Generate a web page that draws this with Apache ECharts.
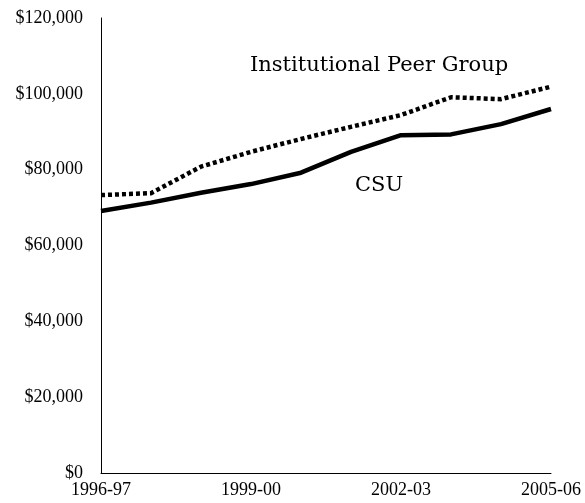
<!DOCTYPE html>
<html><head><meta charset="utf-8">
<script src="https://cdn.jsdelivr.net/npm/echarts@6/dist/echarts.min.js"></script>
<style>html,body{margin:0;padding:0;background:#fff}#c{width:585px;height:503px}</style>
</head><body><div id="c"></div>
<script>
var years = ['1996-97','1997-98','1998-99','1999-00','2000-01','2001-02','2002-03','2003-04','2004-05','2005-06'];
var peerGroup = [73300, 73800, 80800, 84700, 88100, 91300, 94400, 99100, 98600, 101900];
var csu = [69100, 71300, 73900, 76200, 79200, 84700, 89100, 89300, 92000, 96000];
var peerName = 'Institutional Peer Group';
var csuName = 'CSU';

var font = 'Liberation Serif, Times New Roman, serif';
var font2 = 'DejaVu Serif, serif';
var chart = echarts.init(document.getElementById('c'));
chart.setOption({
  animation: false,
  grid: {left: 101, right: 34, top: 18, bottom: 30},
  xAxis: {
    type: 'category', data: years, boundaryGap: false,
    axisLine: {lineStyle: {color: '#000', width: 1}},
    axisTick: {show: false},
    axisLabel: {interval: 2, color: '#000', fontFamily: font, fontSize: 18, margin: 8}
  },
  yAxis: {
    type: 'value', min: 0, max: 120000, interval: 20000,
    axisLine: {show: true, lineStyle: {color: '#000', width: 1}},
    axisTick: {show: false},
    splitLine: {show: false},
    axisLabel: {color: '#000', fontFamily: font, fontSize: 18, margin: 18,
      formatter: function (v) { return '$' + v.toLocaleString('en-US'); }}
  },
  series: [
    {name: peerName, type: 'line', data: peerGroup, symbol: 'none',
     lineStyle: {color: '#000', width: 4.5, type: [4, 3], cap: 'butt'}},
    {name: csuName, type: 'line', data: csu, symbol: 'none',
     lineStyle: {color: '#000', width: 4.5}}
  ],
  graphic: [
    {type: 'text', left: 250, top: 55, style: {text: peerName, font: '21px ' + font2, fill: '#000'}},
    {type: 'text', left: 355, top: 175, style: {text: csuName, font: '21px ' + font2, fill: '#000'}}
  ]
});
</script></body></html>
